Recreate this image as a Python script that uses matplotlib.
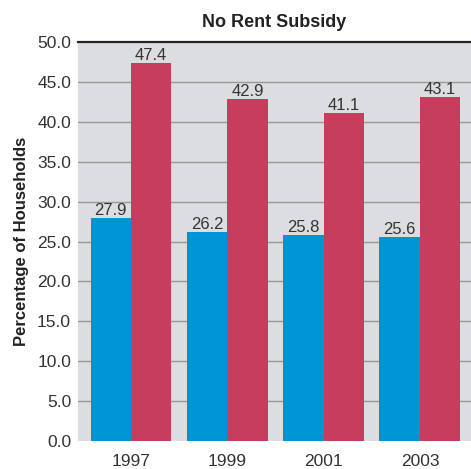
import matplotlib
matplotlib.use("Agg")
from matplotlib import pyplot as plt
import numpy as np

years = ["1997", "1999", "2001", "2003"]
blue_vals = [27.9, 26.2, 25.8, 25.6]
red_vals = [47.4, 42.9, 41.1, 43.1]
yticks = [0, 5, 10, 15, 20, 25, 30, 35, 40, 45, 50]

plt.rcParams['font.family'] = ['Liberation Sans', 'DejaVu Sans']

fig = plt.figure(figsize=(4.71, 4.69), dpi=100)
ax = fig.add_axes([0.1656, 0.0597, 0.8344, 0.8507])
ax.set_facecolor('#dcdde0')

x = np.arange(len(years))
w = 0.42
b1 = ax.bar(x - w / 2, blue_vals, w, color='#0096d6', zorder=3)
b2 = ax.bar(x + w / 2, red_vals, w, color='#c73e5c', zorder=3)
ax.bar_label(b1, labels=[f"{v:.1f}" for v in blue_vals], padding=0,
             fontsize=12, color='#333333')
ax.bar_label(b2, labels=[f"{v:.1f}" for v in red_vals], padding=0,
             fontsize=12, color='#333333')

ax.set_xlim(-0.55, 3.53)
ax.set_ylim(0, 50)
ax.set_yticks(yticks)
ax.set_yticklabels([f"{v:.1f}" for v in yticks], fontsize=12.5, color='#333333')
ax.set_xticks(x)
ax.set_xticklabels(years, fontsize=12.5, color='#333333')
ax.tick_params(axis='y', length=0, pad=5)
ax.tick_params(axis='x', length=0, pad=9)

for v in yticks[1:-1]:
    ax.axhline(v, color='#999999', lw=1, zorder=1)
ax.axhline(50, color='#222222', lw=1.6, zorder=4, clip_on=False)

for s in ax.spines.values():
    s.set_visible(False)

ax.set_ylabel("Percentage of Households", fontsize=12, fontweight='bold',
              color='#222222', labelpad=6)
ax.set_title("No Rent Subsidy", fontsize=13, fontweight='bold',
             color='#222222', pad=11)

plt.savefig('out.png', dpi=100)
